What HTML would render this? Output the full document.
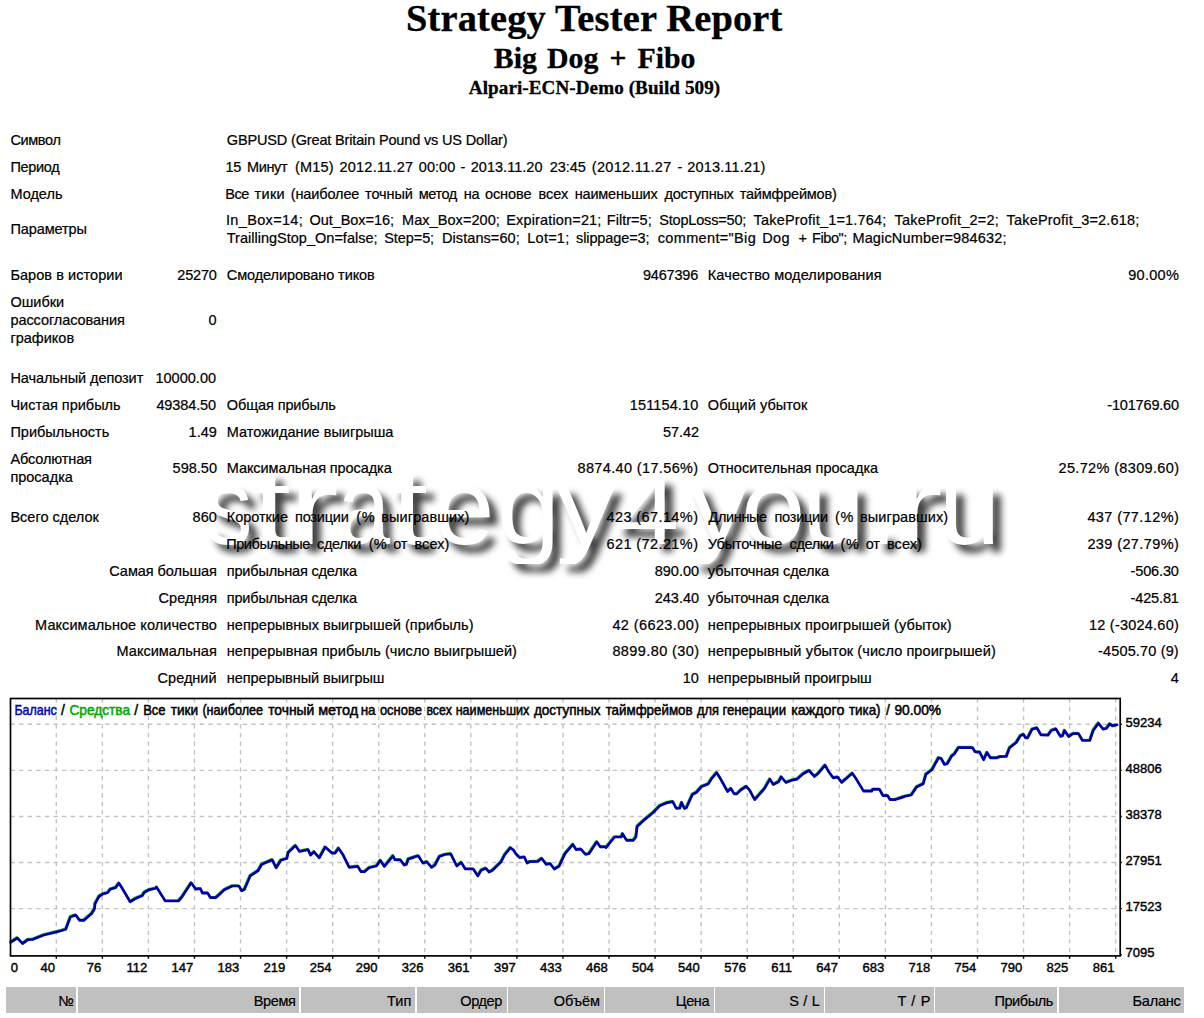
<!DOCTYPE html>
<html><head><meta charset="utf-8"><title>Strategy Tester: Big Dog + Fibo</title>
<style>
html,body{margin:0;padding:0;background:#fff;}
body{width:1204px;height:1018px;position:relative;overflow:hidden;font-family:"Liberation Sans",sans-serif;color:#000;}
.t{z-index:2;position:absolute;white-space:nowrap;font-size:14.5px;line-height:18.0px;height:18.0px;-webkit-text-stroke:0.22px #000;}
.h{position:absolute;white-space:nowrap;font-family:"Liberation Serif",serif;font-weight:bold;-webkit-text-stroke:0.3px #000;}
.th{position:absolute;top:987px;height:25.7px;background:#c0c0c0;}
.th span{position:absolute;right:4.6px;top:3.6px;font-size:14.5px;line-height:18px;white-space:nowrap;-webkit-text-stroke:0.22px #000;}
#wm{position:absolute;white-space:nowrap;}
svg text{font-family:"Liberation Sans",sans-serif;}
</style></head><body>
<div class="h" id="h0" style="left:405.90px;top:-4.66px;font-size:38.4px;line-height:46px;letter-spacing:0.190px">Strategy Tester Report</div>
<div class="h" id="h1" style="left:493.80px;top:39.94px;font-size:29.8px;line-height:36px;letter-spacing:0.000px">Big</div>
<div class="h" id="h2" style="left:547.00px;top:39.94px;font-size:29.8px;line-height:36px;letter-spacing:0.000px">Dog</div>
<div class="h" id="h3" style="left:609.50px;top:39.94px;font-size:29.8px;line-height:36px;letter-spacing:0.000px">+</div>
<div class="h" id="h4" style="left:637.50px;top:39.94px;font-size:29.8px;line-height:36px;letter-spacing:0.000px">Fibo</div>
<div class="h" id="h5" style="left:468.80px;top:75.80px;font-size:19.1px;line-height:23px;letter-spacing:0.080px">Alpari-ECN-Demo (Build 509)</div>
<div id="wm" style="position:absolute;left:0;top:440px;width:1204px;height:123.5px;filter:drop-shadow(8px 8px 3.8px rgba(0,0,0,0.75));"><svg width="1204" height="123.5" viewBox="0 440 1204 123.5" style="display:block;overflow:hidden"><g font-family="Liberation Sans" font-size="112" fill="#fff"><text transform="translate(204.96 544.20) scale(0.8469 0.9667)">s</text><text transform="translate(252.31 544.20) scale(1.2464 0.9722)">t</text><text transform="translate(289.07 544.20) scale(1.3321 0.9667)">r</text><text transform="translate(337.79 544.20) scale(0.8421 0.9667)">a</text><text transform="translate(391.11 544.20) scale(1.1964 0.9722)">t</text><text transform="translate(433.51 544.20) scale(0.9788 0.9667)">e</text><text transform="translate(497.35 544.20) scale(1.0100 0.9667)">g</text><text transform="translate(556.00 544.20) scale(1.0536 0.9661)">y</text><text transform="translate(614.37 544.20) scale(1.0446 0.8684)">4</text><text transform="translate(689.70 544.20) scale(1.0232 0.9661)">y</text><text transform="translate(741.03 544.20) scale(1.0340 0.9667)">o</text><text transform="translate(801.90 544.20) scale(1.0146 0.9661)">u</text><text transform="translate(867.45 544.20) scale(0.9545 0.9583)">.</text><text transform="translate(894.58 544.20) scale(1.2893 0.9667)">r</text><text transform="translate(939.10 544.20) scale(0.9854 0.9661)">u</text></g></svg></div>
<div class="t" id="i0" style="left:10.40px;top:130.98px;letter-spacing:-0.360px;">Символ</div>
<div class="t" id="i1" style="left:226.80px;top:130.98px;letter-spacing:-0.153px;">GBPUSD (Great Britain Pound vs US Dollar)</div>
<div class="t" id="i2" style="left:10.40px;top:157.98px;letter-spacing:-0.320px;">Период</div>
<div class="t" id="i3" style="left:225.60px;top:157.98px;letter-spacing:-0.400px;">15</div>
<div class="t" id="i4" style="left:247.05px;top:157.98px;letter-spacing:-0.400px;">Минут</div>
<div class="t" id="i5" style="left:295.00px;top:157.98px;letter-spacing:0.188px;">(M15)</div>
<div class="t" id="i6" style="left:339.50px;top:157.98px;letter-spacing:0.222px;">2012.11.27</div>
<div class="t" id="i7" style="left:418.75px;top:157.98px;letter-spacing:0.062px;">00:00</div>
<div class="t" id="i8" style="left:460.62px;top:157.98px;">-</div>
<div class="t" id="i9" style="left:470.75px;top:157.98px;letter-spacing:0.028px;">2013.11.20</div>
<div class="t" id="i10" style="left:549.75px;top:157.98px;letter-spacing:-0.062px;">23:45</div>
<div class="t" id="i11" style="left:591.75px;top:157.98px;letter-spacing:0.325px;">(2012.11.27</div>
<div class="t" id="i12" style="left:677.38px;top:157.98px;">-</div>
<div class="t" id="i13" style="left:687.25px;top:157.98px;letter-spacing:0.165px;">2013.11.21)</div>
<div class="t" id="i14" style="left:10.40px;top:184.98px;">Модель</div>
<div class="t" id="i15" style="left:225.15px;top:184.98px;letter-spacing:-0.400px;">Все</div>
<div class="t" id="i16" style="left:254.50px;top:184.98px;letter-spacing:0.333px;">тики</div>
<div class="t" id="i17" style="left:290.75px;top:184.98px;letter-spacing:-0.125px;">(наиболее</div>
<div class="t" id="i18" style="left:365.00px;top:184.98px;letter-spacing:-0.100px;">точный</div>
<div class="t" id="i19" style="left:418.68px;top:184.98px;letter-spacing:-0.400px;">метод</div>
<div class="t" id="i20" style="left:463.82px;top:184.98px;letter-spacing:-0.400px;">на</div>
<div class="t" id="i21" style="left:485.00px;top:184.98px;letter-spacing:-0.100px;">основе</div>
<div class="t" id="i22" style="left:538.50px;top:184.98px;">всех</div>
<div class="t" id="i23" style="left:574.75px;top:184.98px;letter-spacing:-0.194px;">наименьших</div>
<div class="t" id="i24" style="left:664.50px;top:184.98px;letter-spacing:-0.250px;">доступных</div>
<div class="t" id="i25" style="left:739.75px;top:184.98px;letter-spacing:-0.214px;">таймфреймов)</div>
<div class="t" id="i26" style="left:10.40px;top:220.48px;letter-spacing:-0.088px;">Параметры</div>
<div class="t" id="i27" style="left:226.00px;top:211.48px;letter-spacing:0.333px;">In_Box=14;</div>
<div class="t" id="i28" style="left:309.50px;top:211.48px;letter-spacing:-0.050px;">Out_Box=16;</div>
<div class="t" id="i29" style="left:402.00px;top:211.48px;letter-spacing:0.068px;">Max_Box=200;</div>
<div class="t" id="i30" style="left:506.25px;top:211.48px;letter-spacing:0.154px;">Expiration=21;</div>
<div class="t" id="i31" style="left:606.75px;top:211.48px;letter-spacing:0.036px;">Filtr=5;</div>
<div class="t" id="i32" style="left:659.25px;top:211.48px;letter-spacing:-0.182px;">StopLoss=50;</div>
<div class="t" id="i33" style="left:753.50px;top:211.48px;letter-spacing:0.194px;">TakeProfit_1=1.764;</div>
<div class="t" id="i34" style="left:894.50px;top:211.48px;letter-spacing:0.229px;">TakeProfit_2=2;</div>
<div class="t" id="i35" style="left:1006.60px;top:211.48px;letter-spacing:0.183px;">TakeProfit_3=2.618;</div>
<div class="t" id="i36" style="left:226.75px;top:229.48px;letter-spacing:0.011px;">TraillingStop_On=false;</div>
<div class="t" id="i37" style="left:384.25px;top:229.48px;letter-spacing:-0.083px;">Step=5;</div>
<div class="t" id="i38" style="left:442.00px;top:229.48px;letter-spacing:0.075px;">Distans=60;</div>
<div class="t" id="i39" style="left:527.25px;top:229.48px;letter-spacing:0.250px;">Lot=1;</div>
<div class="t" id="i40" style="left:576.00px;top:229.48px;letter-spacing:-0.100px;">slippage=3;</div>
<div class="t" id="i41" style="left:657.75px;top:229.48px;letter-spacing:0.341px;">comment="Big</div>
<div class="t" id="i42" style="left:762.25px;top:229.48px;letter-spacing:0.375px;">Dog</div>
<div class="t" id="i43" style="left:798.62px;top:229.48px;">+</div>
<div class="t" id="i44" style="left:812.00px;top:229.48px;letter-spacing:-0.400px;">Fibo";</div>
<div class="t" id="i45" style="left:852.40px;top:229.48px;letter-spacing:0.161px;">MagicNumber=984632;</div>
<div class="t" id="i46" style="left:10.40px;top:265.98px;letter-spacing:0.064px;">Баров в истории</div>
<div class="t" id="i47" style="left:177.30px;top:265.98px;letter-spacing:-0.175px;">25270</div>
<div class="t" id="i48" style="left:226.80px;top:265.98px;letter-spacing:-0.094px;">Смоделировано тиков</div>
<div class="t" id="i49" style="left:643.00px;top:265.98px;letter-spacing:-0.200px;">9467396</div>
<div class="t" id="i50" style="left:707.80px;top:265.98px;letter-spacing:0.114px;">Качество моделирования</div>
<div class="t" id="i51" style="left:1128.20px;top:265.98px;letter-spacing:0.300px;">90.00%</div>
<div class="t" id="i52" style="left:10.40px;top:292.98px;">Ошибки</div>
<div class="t" id="i53" style="left:10.40px;top:310.98px;letter-spacing:-0.064px;">рассогласования</div>
<div class="t" id="i54" style="left:10.40px;top:328.98px;">графиков</div>
<div class="t" id="i55" style="left:208.60px;top:310.98px;">0</div>
<div class="t" id="i56" style="left:10.40px;top:368.98px;letter-spacing:-0.075px;">Начальный депозит</div>
<div class="t" id="i57" style="left:155.40px;top:368.98px;letter-spacing:0.029px;">10000.00</div>
<div class="t" id="i58" style="left:10.40px;top:395.98px;">Чистая прибыль</div>
<div class="t" id="i59" style="left:156.40px;top:395.98px;letter-spacing:-0.114px;">49384.50</div>
<div class="t" id="i60" style="left:226.80px;top:395.98px;letter-spacing:-0.100px;">Общая прибыль</div>
<div class="t" id="i61" style="left:629.80px;top:395.98px;letter-spacing:0.125px;">151154.10</div>
<div class="t" id="i62" style="left:707.80px;top:395.98px;letter-spacing:0.064px;">Общий убыток</div>
<div class="t" id="i63" style="left:1107.30px;top:395.98px;letter-spacing:-0.178px;">-101769.60</div>
<div class="t" id="i64" style="left:10.40px;top:422.98px;">Прибыльность</div>
<div class="t" id="i65" style="left:188.60px;top:422.98px;">1.49</div>
<div class="t" id="i66" style="left:226.80px;top:422.98px;">Матожидание выигрыша</div>
<div class="t" id="i67" style="left:663.00px;top:422.98px;letter-spacing:-0.050px;">57.42</div>
<div class="t" id="i68" style="left:10.40px;top:449.98px;letter-spacing:-0.111px;">Абсолютная</div>
<div class="t" id="i69" style="left:10.40px;top:467.98px;">просадка</div>
<div class="t" id="i70" style="left:172.60px;top:458.98px;">598.50</div>
<div class="t" id="i71" style="left:226.80px;top:458.98px;letter-spacing:-0.085px;">Максимальная просадка</div>
<div class="t" id="i72" style="left:577.50px;top:458.98px;letter-spacing:0.360px;">8874.40 (17.56%)</div>
<div class="t" id="i73" style="left:707.80px;top:458.98px;letter-spacing:0.024px;">Относительная просадка</div>
<div class="t" id="i74" style="left:1058.50px;top:458.98px;letter-spacing:0.347px;">25.72% (8309.60)</div>
<div class="t" id="i75" style="left:10.40px;top:507.98px;letter-spacing:0.009px;">Всего сделок</div>
<div class="t" id="i76" style="left:192.60px;top:507.98px;">860</div>
<div class="t" id="i77" style="left:226.80px;top:507.98px;letter-spacing:-0.043px;">Короткие</div>
<div class="t" id="i78" style="left:295.00px;top:507.98px;letter-spacing:-0.208px;">позиции</div>
<div class="t" id="i79" style="left:356.25px;top:507.98px;letter-spacing:0.750px;">(%</div>
<div class="t" id="i80" style="left:381.25px;top:507.98px;letter-spacing:0.100px;">выигравших)</div>
<div class="t" id="i81" style="left:606.50px;top:507.98px;letter-spacing:0.400px;">423 (67.14%)</div>
<div class="t" id="i82" style="left:708.60px;top:507.98px;letter-spacing:-0.400px;">Длинные</div>
<div class="t" id="i83" style="left:774.50px;top:507.98px;letter-spacing:-0.250px;">позиции</div>
<div class="t" id="i84" style="left:835.00px;top:507.98px;letter-spacing:0.750px;">(%</div>
<div class="t" id="i85" style="left:860.00px;top:507.98px;letter-spacing:0.100px;">выигравших)</div>
<div class="t" id="i86" style="left:1087.40px;top:507.98px;letter-spacing:0.391px;">437 (77.12%)</div>
<div class="t" id="i87" style="left:226.20px;top:534.98px;letter-spacing:-0.400px;">Прибыльные</div>
<div class="t" id="i88" style="left:317.00px;top:534.98px;letter-spacing:-0.350px;">сделки</div>
<div class="t" id="i89" style="left:368.75px;top:534.98px;letter-spacing:0.250px;">(%</div>
<div class="t" id="i90" style="left:393.32px;top:534.98px;letter-spacing:-0.400px;">от</div>
<div class="t" id="i91" style="left:414.50px;top:534.98px;letter-spacing:0.062px;">всех)</div>
<div class="t" id="i92" style="left:606.50px;top:534.98px;letter-spacing:0.400px;">621 (72.21%)</div>
<div class="t" id="i93" style="left:707.80px;top:534.98px;letter-spacing:-0.162px;">Убыточные</div>
<div class="t" id="i94" style="left:789.50px;top:534.98px;letter-spacing:-0.350px;">сделки</div>
<div class="t" id="i95" style="left:840.50px;top:534.98px;letter-spacing:0.750px;">(%</div>
<div class="t" id="i96" style="left:865.83px;top:534.98px;letter-spacing:-0.400px;">от</div>
<div class="t" id="i97" style="left:887.00px;top:534.98px;letter-spacing:0.062px;">всех)</div>
<div class="t" id="i98" style="left:1087.40px;top:534.98px;letter-spacing:0.391px;">239 (27.79%)</div>
<div class="t" id="i99" style="left:109.30px;top:561.98px;letter-spacing:-0.058px;">Самая большая</div>
<div class="t" id="i100" style="left:226.80px;top:561.98px;letter-spacing:-0.181px;">прибыльная сделка</div>
<div class="t" id="i101" style="left:654.70px;top:561.98px;letter-spacing:0.020px;">890.00</div>
<div class="t" id="i102" style="left:707.80px;top:561.98px;letter-spacing:-0.067px;">убыточная сделка</div>
<div class="t" id="i103" style="left:1130.60px;top:561.98px;letter-spacing:-0.150px;">-506.30</div>
<div class="t" id="i104" style="left:158.60px;top:588.98px;">Средняя</div>
<div class="t" id="i105" style="left:226.80px;top:588.98px;letter-spacing:-0.181px;">прибыльная сделка</div>
<div class="t" id="i106" style="left:654.70px;top:588.98px;letter-spacing:0.020px;">243.40</div>
<div class="t" id="i107" style="left:707.80px;top:588.98px;letter-spacing:-0.067px;">убыточная сделка</div>
<div class="t" id="i108" style="left:1130.60px;top:588.98px;letter-spacing:-0.150px;">-425.81</div>
<div class="t" id="i109" style="left:35.10px;top:615.98px;letter-spacing:0.068px;">Максимальное количество</div>
<div class="t" id="i110" style="left:226.80px;top:615.98px;letter-spacing:0.017px;">непрерывных выигрышей (прибыль)</div>
<div class="t" id="i111" style="left:612.40px;top:615.98px;letter-spacing:0.400px;">42 (6623.00)</div>
<div class="t" id="i112" style="left:707.80px;top:615.98px;letter-spacing:0.113px;">непрерывных проигрышей (убыток)</div>
<div class="t" id="i113" style="left:1089.00px;top:615.98px;letter-spacing:0.225px;">12 (-3024.60)</div>
<div class="t" id="i114" style="left:116.60px;top:642.48px;">Максимальная</div>
<div class="t" id="i115" style="left:226.80px;top:642.48px;letter-spacing:0.058px;">непрерывная прибыль (число выигрышей)</div>
<div class="t" id="i116" style="left:612.40px;top:642.48px;letter-spacing:0.400px;">8899.80 (30)</div>
<div class="t" id="i117" style="left:707.80px;top:642.48px;letter-spacing:0.089px;">непрерывный убыток (число проигрышей)</div>
<div class="t" id="i118" style="left:1098.00px;top:642.48px;letter-spacing:0.155px;">-4505.70 (9)</div>
<div class="t" id="i119" style="left:157.60px;top:669.48px;">Средний</div>
<div class="t" id="i120" style="left:226.80px;top:669.48px;letter-spacing:-0.044px;">непрерывный выигрыш</div>
<div class="t" id="i121" style="left:682.80px;top:669.48px;">10</div>
<div class="t" id="i122" style="left:707.80px;top:669.48px;letter-spacing:-0.021px;">непрерывный проигрыш</div>
<div class="t" id="i123" style="left:1170.70px;top:669.48px;">4</div>
<div class="t" id="i124" style="left:58.50px;top:991.58px;">№</div>
<div class="t" id="i125" style="left:253.75px;top:991.58px;letter-spacing:-0.362px;">Время</div>
<div class="t" id="i126" style="left:387.00px;top:991.58px;letter-spacing:0.125px;">Тип</div>
<div class="t" id="i127" style="left:460.30px;top:991.58px;letter-spacing:-0.400px;">Ордер</div>
<div class="t" id="i128" style="left:553.80px;top:991.58px;">Объём</div>
<div class="t" id="i129" style="left:675.85px;top:991.58px;letter-spacing:-0.400px;">Цена</div>
<div class="t" id="i130" style="left:789.25px;top:991.58px;letter-spacing:0.188px;">S / L</div>
<div class="t" id="i131" style="left:897.50px;top:991.58px;letter-spacing:0.625px;">T / P</div>
<div class="t" id="i132" style="left:994.45px;top:991.58px;letter-spacing:-0.400px;">Прибыль</div>
<div class="t" id="i133" style="left:1132.50px;top:991.58px;letter-spacing:-0.200px;">Баланс</div>
<svg id="chart" style="position:absolute;left:0;top:0" width="1204" height="1018" viewBox="0 0 1204 1018">
<path d="M56.30 698.5V955.9M102.36 698.5V955.9M148.42 698.5V955.9M194.48 698.5V955.9M240.54 698.5V955.9M286.60 698.5V955.9M332.66 698.5V955.9M378.72 698.5V955.9M424.78 698.5V955.9M470.84 698.5V955.9M516.90 698.5V955.9M562.96 698.5V955.9M609.02 698.5V955.9M655.08 698.5V955.9M701.14 698.5V955.9M747.20 698.5V955.9M793.26 698.5V955.9M839.32 698.5V955.9M885.38 698.5V955.9M931.44 698.5V955.9M977.50 698.5V955.9M1023.56 698.5V955.9M1069.62 698.5V955.9M1115.68 698.5V955.9M10.5 724.30H1120.2M10.5 770.38H1120.2M10.5 816.46H1120.2M10.5 862.54H1120.2M10.5 908.62H1120.2" fill="none" stroke="#c3c3c3" stroke-width="1.4" stroke-dasharray="4.3 4.3"/>
<path d="M56.30 955.9v2.8M102.36 955.9v2.8M148.42 955.9v2.8M194.48 955.9v2.8M240.54 955.9v2.8M286.60 955.9v2.8M332.66 955.9v2.8M378.72 955.9v2.8M424.78 955.9v2.8M470.84 955.9v2.8M516.90 955.9v2.8M562.96 955.9v2.8M609.02 955.9v2.8M655.08 955.9v2.8M701.14 955.9v2.8M747.20 955.9v2.8M793.26 955.9v2.8M839.32 955.9v2.8M885.38 955.9v2.8M931.44 955.9v2.8M977.50 955.9v2.8M1023.56 955.9v2.8M1069.62 955.9v2.8M1115.68 955.9v2.8M1120.2 724.30h1.6M1120.2 770.38h1.6M1120.2 816.46h1.6M1120.2 862.54h1.6M1120.2 908.62h1.6M1120.2 954.70h1.6" fill="none" stroke="#000" stroke-width="1.4"/>
<polyline points="9.9,941.6 16.6,937.2 21.9,942.9 27.2,938.9 32.5,938.5 43.2,934.2 55.1,931.3 60.4,929.9 65.1,928.5 69.7,916.3 75.0,914.3 79.0,919.6 83.0,919.6 91.0,912.7 93.9,907.7 94.3,903.0 98.3,895.7 102.3,893.1 106.9,892.0 109.6,888.4 114.9,886.8 118.2,882.4 120.9,886.4 129.5,901.0 134.8,897.7 141.5,895.0 143.5,891.7 148.1,889.1 155.4,887.5 155.9,886.3 164.6,900.2 177.9,900.0 181.2,896.2 190.5,882.0 195.1,888.3 199.8,887.9 201.8,892.3 207.1,892.3 209.8,896.9 215.1,896.9 223.7,888.9 231.7,885.2 238.3,885.2 241.0,890.0 243.7,888.7 249.6,875.0 257.6,869.7 260.9,863.7 271.6,859.0 275.5,867.0 280.2,859.4 286.2,857.7 287.5,851.7 294.8,844.8 298.8,850.7 307.4,848.8 309.9,854.3 313.3,851.0 318.6,857.0 324.5,846.3 331.2,852.3 334.5,852.3 337.8,847.4 342.5,854.3 348.5,866.5 357.1,865.6 360.4,870.9 363.8,870.9 368.4,866.9 375.7,865.2 379.7,859.6 383.7,865.6 392.3,855.0 394.3,859.0 399.6,859.0 403.6,864.3 405.6,863.6 407.6,858.3 417.6,855.0 422.2,862.3 426.2,861.0 430.9,866.5 434.2,864.3 438.8,855.6 444.2,853.7 450.1,853.0 456.1,865.2 460.6,861.6 464.6,868.2 472.6,868.2 477.2,875.1 480.5,869.5 485.2,867.5 488.5,871.3 491.8,869.5 500.5,860.9 503.8,854.2 509.8,846.9 513.1,849.6 515.1,852.9 519.1,856.9 523.7,856.2 526.4,862.2 529.0,860.9 537.0,860.6 541.0,857.6 545.6,863.6 549.6,862.9 553.6,868.2 558.3,865.5 564.3,852.9 572.2,843.6 575.5,848.9 580.2,848.3 584.8,853.6 588.2,852.9 596.1,841.0 599.5,846.0 604.8,846.0 605.3,846.9 613.9,836.2 620.6,836.2 621.9,832.9 625.9,839.6 632.5,839.6 635.2,836.2 636.5,825.6 644.5,818.3 652.5,811.7 659.1,805.0 665.7,802.1 672.1,800.8 675.7,807.7 679.0,807.4 681.0,801.7 683.7,807.7 685.7,807.0 691.7,793.7 695.6,791.7 701.0,785.7 707.6,783.1 710.9,777.8 716.0,771.8 718.9,776.4 726.9,790.7 730.2,787.7 733.5,793.1 736.2,793.1 740.2,789.1 745.5,785.7 748.8,789.1 754.0,798.9 763.9,787.6 769.2,778.3 772.6,783.7 777.9,781.0 780.5,776.1 785.2,781.7 791.8,779.3 796.5,778.3 802.5,773.0 808.4,769.7 813.8,775.7 817.7,772.4 824.4,764.4 827.7,770.4 832.4,777.0 837.0,776.3 841.0,781.7 845.6,777.7 851.6,772.4 855.6,778.3 862.9,790.3 870.9,790.3 872.2,788.6 878.9,788.6 882.2,794.9 886.8,794.7 889.5,798.9 894.2,798.9 902.1,796.3 904.6,795.5 910.6,794.2 915.9,786.2 922.6,782.9 925.2,773.6 931.2,769.0 937.8,757.0 940.5,757.7 943.8,763.7 946.5,763.0 951.1,755.0 953.8,753.0 957.8,746.8 971.7,746.8 974.4,751.0 979.0,751.3 983.0,759.0 986.3,751.7 989.7,757.0 996.3,757.0 999.0,755.9 1005.6,755.7 1008.9,747.0 1015.6,741.7 1019.6,735.1 1022.9,733.5 1024.9,737.1 1026.9,737.1 1031.5,728.4 1036.2,727.1 1040.2,734.0 1047.3,734.4 1050.6,729.7 1055.2,728.1 1059.9,735.7 1061.9,735.0 1063.9,729.7 1067.9,735.7 1072.5,732.8 1077.8,732.8 1081.8,739.7 1089.1,739.7 1092.5,729.7 1097.8,722.4 1102.4,728.4 1105.7,727.7 1109.1,723.1 1111.7,725.1 1116.4,724.0" fill="none" stroke="#00b400" stroke-width="2" stroke-opacity="0.8" stroke-linejoin="round"/>
<polyline points="10.6,942.4 17.3,938.0 22.6,943.7 27.9,939.7 33.2,939.3 43.9,935.0 55.8,932.1 61.1,930.7 65.8,929.3 70.4,917.1 75.7,915.1 79.7,920.4 83.7,920.4 91.7,913.5 94.6,908.5 95.0,903.8 99.0,896.5 103.0,893.9 107.6,892.8 110.3,889.2 115.6,887.6 118.9,883.2 121.6,887.2 130.2,901.8 135.5,898.5 142.2,895.8 144.2,892.5 148.8,889.9 156.1,888.3 156.6,887.1 165.3,901.0 178.6,900.8 181.9,897.0 191.2,882.8 195.8,889.1 200.5,888.7 202.5,893.1 207.8,893.1 210.5,897.7 215.8,897.7 224.4,889.7 232.4,886.0 239.0,886.0 241.7,890.8 244.4,889.5 250.3,875.8 258.3,870.5 261.6,864.5 272.3,859.8 276.2,867.8 280.9,860.2 286.9,858.5 288.2,852.5 295.5,845.6 299.5,851.5 308.1,849.6 310.6,855.1 314.0,851.8 319.3,857.8 325.2,847.1 331.9,853.1 335.2,853.1 338.5,848.2 343.2,855.1 349.2,867.3 357.8,866.4 361.1,871.7 364.5,871.7 369.1,867.7 376.4,866.0 380.4,860.4 384.4,866.4 393.0,855.8 395.0,859.8 400.3,859.8 404.3,865.1 406.3,864.4 408.3,859.1 418.3,855.8 422.9,863.1 426.9,861.8 431.6,867.3 434.9,865.1 439.5,856.4 444.9,854.5 450.8,853.8 456.8,866.0 461.3,862.4 465.3,869.0 473.3,869.0 477.9,875.9 481.2,870.3 485.9,868.3 489.2,872.1 492.5,870.3 501.2,861.7 504.5,855.0 510.5,847.7 513.8,850.4 515.8,853.7 519.8,857.7 524.4,857.0 527.1,863.0 529.7,861.7 537.7,861.4 541.7,858.4 546.3,864.4 550.3,863.7 554.3,869.0 559.0,866.3 565.0,853.7 572.9,844.4 576.2,849.7 580.9,849.1 585.5,854.4 588.9,853.7 596.8,841.8 600.2,846.8 605.5,846.8 606.0,847.7 614.6,837.0 621.3,837.0 622.6,833.7 626.6,840.4 633.2,840.4 635.9,837.0 637.2,826.4 645.2,819.1 653.2,812.5 659.8,805.8 666.4,802.9 672.8,801.6 676.4,808.5 679.7,808.2 681.7,802.5 684.4,808.5 686.4,807.8 692.4,794.5 696.3,792.5 701.7,786.5 708.3,783.9 711.6,778.6 716.7,772.6 719.6,777.2 727.6,791.5 730.9,788.5 734.2,793.9 736.9,793.9 740.9,789.9 746.2,786.5 749.5,789.9 754.7,799.7 764.6,788.4 769.9,779.1 773.3,784.5 778.6,781.8 781.2,776.9 785.9,782.5 792.5,780.1 797.2,779.1 803.2,773.8 809.1,770.5 814.5,776.5 818.4,773.2 825.1,765.2 828.4,771.2 833.1,777.8 837.7,777.1 841.7,782.5 846.3,778.5 852.3,773.2 856.3,779.1 863.6,791.1 871.6,791.1 872.9,789.4 879.6,789.4 882.9,795.7 887.5,795.5 890.2,799.7 894.9,799.7 902.8,797.1 905.3,796.3 911.3,795.0 916.6,787.0 923.3,783.7 925.9,774.4 931.9,769.8 938.5,757.8 941.2,758.5 944.5,764.5 947.2,763.8 951.8,755.8 954.5,753.8 958.5,747.6 972.4,747.6 975.1,751.8 979.7,752.1 983.7,759.8 987.0,752.5 990.4,757.8 997.0,757.8 999.7,756.7 1006.3,756.5 1009.6,747.8 1016.3,742.5 1020.3,735.9 1023.6,734.3 1025.6,737.9 1027.6,737.9 1032.2,729.2 1036.9,727.9 1040.9,734.8 1048.0,735.2 1051.3,730.5 1055.9,728.9 1060.6,736.5 1062.6,735.8 1064.6,730.5 1068.6,736.5 1073.2,733.6 1078.5,733.6 1082.5,740.5 1089.8,740.5 1093.2,730.5 1098.5,723.2 1103.1,729.2 1106.4,728.5 1109.8,723.9 1112.4,725.9 1117.1,724.8" fill="none" stroke="#0000a8" stroke-width="2.7" stroke-linejoin="round" stroke-linecap="round"/>
<rect x="10.5" y="698.5" width="1109.7" height="257.4" fill="none" stroke="#000" stroke-width="1.7"/>
<g font-size="13.05" fill="#000" stroke="#000" stroke-width="0.4">
<text x="10.8" y="972">0</text>
<text x="55.1" y="972" text-anchor="end">40</text>
<text x="101.2" y="972" text-anchor="end">76</text>
<text x="147.2" y="972" text-anchor="end">112</text>
<text x="193.3" y="972" text-anchor="end">147</text>
<text x="239.3" y="972" text-anchor="end">183</text>
<text x="285.4" y="972" text-anchor="end">219</text>
<text x="331.5" y="972" text-anchor="end">254</text>
<text x="377.5" y="972" text-anchor="end">290</text>
<text x="423.6" y="972" text-anchor="end">326</text>
<text x="469.6" y="972" text-anchor="end">361</text>
<text x="515.7" y="972" text-anchor="end">397</text>
<text x="561.8" y="972" text-anchor="end">433</text>
<text x="607.8" y="972" text-anchor="end">468</text>
<text x="653.9" y="972" text-anchor="end">504</text>
<text x="699.9" y="972" text-anchor="end">540</text>
<text x="746.0" y="972" text-anchor="end">576</text>
<text x="792.1" y="972" text-anchor="end">611</text>
<text x="838.1" y="972" text-anchor="end">647</text>
<text x="884.2" y="972" text-anchor="end">683</text>
<text x="930.2" y="972" text-anchor="end">718</text>
<text x="976.3" y="972" text-anchor="end">754</text>
<text x="1022.4" y="972" text-anchor="end">790</text>
<text x="1068.4" y="972" text-anchor="end">825</text>
<text x="1114.5" y="972" text-anchor="end">861</text>
<text x="1125.4" y="726.8">59234</text>
<text x="1125.4" y="772.9">48806</text>
<text x="1125.4" y="819.0">38378</text>
<text x="1125.4" y="865.0">27951</text>
<text x="1125.4" y="911.1">17523</text>
<text x="1125.4" y="957.2">7095</text>
</g>
<g font-size="13.9" stroke-width="0.5" id="cap">
<text x="14.40" y="714.8" fill="#0000c0" stroke="#0000c0" textLength="42.45" lengthAdjust="spacingAndGlyphs">Баланс</text>
<text x="60.95" y="714.8" fill="#000" stroke="#000">/</text>
<text x="69.40" y="714.8" fill="#00a800" stroke="#00a800" textLength="60.70" lengthAdjust="spacingAndGlyphs">Средства</text>
<text x="134.20" y="714.8" fill="#000" stroke="#000">/</text>
<text x="143.15" y="714.8" fill="#000" stroke="#000" textLength="22.45" lengthAdjust="spacingAndGlyphs">Все</text>
<text x="170.65" y="714.8" fill="#000" stroke="#000" textLength="27.45" lengthAdjust="spacingAndGlyphs">тики</text>
<text x="202.40" y="714.8" fill="#000" stroke="#000" textLength="60.70" lengthAdjust="spacingAndGlyphs">(наиболее</text>
<text x="268.15" y="714.8" fill="#000" stroke="#000" textLength="46.20" lengthAdjust="spacingAndGlyphs">точный</text>
<text x="318.15" y="714.8" fill="#000" stroke="#000" textLength="39.95" lengthAdjust="spacingAndGlyphs">метод</text>
<text x="360.65" y="714.8" fill="#000" stroke="#000" textLength="14.95" lengthAdjust="spacingAndGlyphs">на</text>
<text x="379.90" y="714.8" fill="#000" stroke="#000" textLength="41.95" lengthAdjust="spacingAndGlyphs">основе</text>
<text x="426.40" y="714.8" fill="#000" stroke="#000" textLength="25.45" lengthAdjust="spacingAndGlyphs">всех</text>
<text x="455.65" y="714.8" fill="#000" stroke="#000" textLength="73.70" lengthAdjust="spacingAndGlyphs">наименьших</text>
<text x="533.90" y="714.8" fill="#000" stroke="#000" textLength="66.70" lengthAdjust="spacingAndGlyphs">доступных</text>
<text x="605.65" y="714.8" fill="#000" stroke="#000" textLength="86.95" lengthAdjust="spacingAndGlyphs">таймфреймов</text>
<text x="696.90" y="714.8" fill="#000" stroke="#000" textLength="21.95" lengthAdjust="spacingAndGlyphs">для</text>
<text x="722.40" y="714.8" fill="#000" stroke="#000" textLength="63.70" lengthAdjust="spacingAndGlyphs">генерации</text>
<text x="791.15" y="714.8" fill="#000" stroke="#000" textLength="53.20" lengthAdjust="spacingAndGlyphs">каждого</text>
<text x="848.90" y="714.8" fill="#000" stroke="#000" textLength="31.70" lengthAdjust="spacingAndGlyphs">тика)</text>
<text x="885.95" y="714.8" fill="#000" stroke="#000">/</text>
<text x="894.40" y="714.8" fill="#000" stroke="#000" textLength="46.70" lengthAdjust="spacingAndGlyphs">90.00%</text>
</g>
</svg>
<div class="th" style="left:6.25px;width:70.20px"></div>
<div class="th" style="left:78.05px;width:221.40px"></div>
<div class="th" style="left:301.05px;width:113.90px"></div>
<div class="th" style="left:416.55px;width:90.15px"></div>
<div class="th" style="left:508.30px;width:95.40px"></div>
<div class="th" style="left:605.30px;width:108.40px"></div>
<div class="th" style="left:715.30px;width:108.40px"></div>
<div class="th" style="left:825.30px;width:108.40px"></div>
<div class="th" style="left:935.30px;width:122.15px"></div>
<div class="th" style="left:1059.05px;width:124.70px"></div>
</body></html>
